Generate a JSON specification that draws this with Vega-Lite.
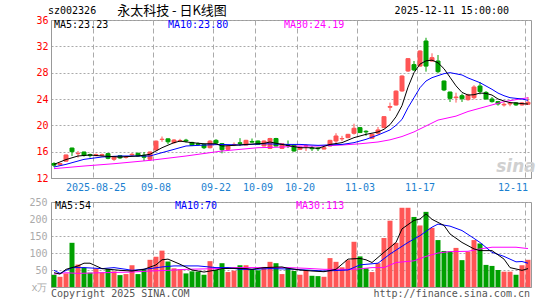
{
"$schema": "https://vega.github.io/schema/vega-lite/v6.json",
"autosize": {"type": "pad"},
"padding": {"left": 28, "top": 4, "right": 14, "bottom": 2},
"background": "white",
"bounds": "flush",
"spacing": 24,
"config": {
  "view": {"stroke": "#999999", "strokeWidth": 1},
  "axis": {"labelFont": "DejaVu Sans Mono", "labelFontSize": 10, "ticks": false, "domainColor": "#999999", "gridColor": "#aaaaaa", "title": null, "labelOverlap": false},
  "text": {"font": "DejaVu Sans Mono", "fontSize": 10}
},
"datasets": {
  "k": [
    {"d":"08-14","o":14.2,"h":14.4,"l":13.65,"c":13.95,"v":36},
    {"d":"08-15","o":14.0,"h":14.3,"l":13.9,"c":14.2,"v":30},
    {"d":"08-18","o":14.55,"h":15.55,"l":14.5,"c":15.5,"v":40},
    {"d":"08-19","o":16.55,"h":16.6,"l":15.35,"c":16.0,"v":130},
    {"d":"08-20","o":15.7,"h":16.1,"l":15.1,"c":15.75,"v":66},
    {"d":"08-21","o":15.95,"h":16.0,"l":15.25,"c":15.45,"v":57},
    {"d":"08-22","o":15.55,"h":15.7,"l":15.1,"c":15.4,"v":42},
    {"d":"08-25","o":15.4,"h":15.7,"l":15.3,"c":15.55,"v":54},
    {"d":"08-26","o":15.45,"h":15.7,"l":15.3,"c":15.55,"v":43},
    {"d":"08-27","o":15.7,"h":15.8,"l":14.85,"c":15.0,"v":53},
    {"d":"08-28","o":14.85,"h":15.35,"l":14.6,"c":15.25,"v":46},
    {"d":"08-29","o":15.4,"h":15.5,"l":14.9,"c":15.05,"v":35},
    {"d":"09-01","o":15.15,"h":15.35,"l":14.95,"c":15.2,"v":38},
    {"d":"09-02","o":15.5,"h":15.8,"l":15.35,"c":15.6,"v":64},
    {"d":"09-03","o":15.75,"h":15.85,"l":15.25,"c":15.35,"v":38},
    {"d":"09-04","o":15.45,"h":15.95,"l":14.6,"c":15.15,"v":52},
    {"d":"09-05","o":14.85,"h":16.0,"l":14.6,"c":15.95,"v":80},
    {"d":"09-08","o":16.25,"h":17.7,"l":16.2,"c":17.6,"v":89},
    {"d":"09-09","o":17.85,"h":18.3,"l":17.5,"c":17.9,"v":107},
    {"d":"09-10","o":17.95,"h":18.0,"l":17.15,"c":17.5,"v":75},
    {"d":"09-11","o":17.37,"h":17.9,"l":17.2,"c":17.77,"v":55},
    {"d":"09-12","o":17.62,"h":17.95,"l":17.45,"c":17.7,"v":52},
    {"d":"09-15","o":17.75,"h":17.95,"l":17.4,"c":17.62,"v":40},
    {"d":"09-16","o":17.4,"h":17.5,"l":16.85,"c":16.96,"v":46},
    {"d":"09-17","o":17.2,"h":17.4,"l":16.9,"c":17.1,"v":45},
    {"d":"09-18","o":17.1,"h":17.2,"l":16.4,"c":16.6,"v":36},
    {"d":"09-19","o":16.6,"h":17.75,"l":16.5,"c":17.6,"v":76},
    {"d":"09-22","o":17.72,"h":17.9,"l":17.2,"c":17.3,"v":50},
    {"d":"09-23","o":17.22,"h":17.3,"l":15.75,"c":16.3,"v":70},
    {"d":"09-24","o":16.35,"h":16.9,"l":16.25,"c":16.82,"v":44},
    {"d":"09-25","o":17.02,"h":17.4,"l":16.85,"c":17.1,"v":48},
    {"d":"09-26","o":17.35,"h":18.05,"l":16.85,"c":17.25,"v":64},
    {"d":"09-29","o":17.0,"h":17.8,"l":16.95,"c":17.72,"v":64},
    {"d":"09-30","o":17.55,"h":18.0,"l":17.35,"c":17.45,"v":53},
    {"d":"10-09","o":17.62,"h":17.7,"l":17.05,"c":17.1,"v":49},
    {"d":"10-10","o":16.86,"h":17.7,"l":16.8,"c":17.62,"v":59},
    {"d":"10-13","o":16.5,"h":18.1,"l":16.4,"c":18.0,"v":74},
    {"d":"10-14","o":18.0,"h":18.1,"l":16.8,"c":16.86,"v":70},
    {"d":"10-15","o":16.5,"h":17.25,"l":16.4,"c":17.2,"v":38},
    {"d":"10-16","o":17.05,"h":17.7,"l":16.55,"c":16.95,"v":55},
    {"d":"10-17","o":17.0,"h":17.1,"l":16.0,"c":16.1,"v":47},
    {"d":"10-20","o":16.36,"h":16.8,"l":16.3,"c":16.7,"v":36},
    {"d":"10-21","o":16.85,"h":17.12,"l":16.1,"c":16.9,"v":48},
    {"d":"10-22","o":16.55,"h":16.85,"l":16.1,"c":16.45,"v":33},
    {"d":"10-23","o":16.55,"h":16.7,"l":16.1,"c":16.45,"v":32},
    {"d":"10-24","o":16.4,"h":16.7,"l":16.35,"c":16.6,"v":30},
    {"d":"10-27","o":16.86,"h":17.8,"l":16.8,"c":17.72,"v":85},
    {"d":"10-28","o":17.62,"h":18.8,"l":17.2,"c":18.38,"v":74},
    {"d":"10-29","o":17.95,"h":18.4,"l":17.6,"c":18.0,"v":58},
    {"d":"10-30","o":18.13,"h":18.7,"l":18.05,"c":18.63,"v":79},
    {"d":"10-31","o":18.79,"h":20.25,"l":18.6,"c":19.55,"v":133},
    {"d":"11-03","o":19.65,"h":19.75,"l":18.85,"c":18.9,"v":90},
    {"d":"11-04","o":19.1,"h":19.25,"l":18.4,"c":19.0,"v":55},
    {"d":"11-05","o":18.03,"h":18.7,"l":17.95,"c":18.64,"v":44},
    {"d":"11-06","o":18.8,"h":19.75,"l":18.6,"c":19.3,"v":70},
    {"d":"11-07","o":19.65,"h":21.4,"l":19.6,"c":21.32,"v":144},
    {"d":"11-10","o":22.75,"h":23.45,"l":22.2,"c":22.85,"v":195},
    {"d":"11-11","o":23.09,"h":25.3,"l":23.0,"c":25.2,"v":130},
    {"d":"11-12","o":25.22,"h":27.6,"l":25.1,"c":27.49,"v":233},
    {"d":"11-13","o":28.25,"h":30.2,"l":28.1,"c":30.13,"v":233},
    {"d":"11-14","o":29.22,"h":29.77,"l":28.25,"c":28.41,"v":206},
    {"d":"11-17","o":29.0,"h":31.4,"l":28.9,"c":31.29,"v":181},
    {"d":"11-18","o":32.81,"h":33.3,"l":28.15,"c":29.0,"v":221},
    {"d":"11-19","o":29.77,"h":30.94,"l":29.67,"c":30.28,"v":174},
    {"d":"11-20","o":29.77,"h":30.68,"l":27.9,"c":28.15,"v":138},
    {"d":"11-21","o":26.73,"h":26.8,"l":25.2,"c":25.37,"v":106},
    {"d":"11-24","o":25.06,"h":25.1,"l":23.55,"c":24.1,"v":105},
    {"d":"11-25","o":24.2,"h":24.96,"l":23.45,"c":24.3,"v":115},
    {"d":"11-26","o":24.5,"h":24.8,"l":23.55,"c":24.05,"v":79},
    {"d":"11-27","o":23.9,"h":24.8,"l":23.75,"c":24.6,"v":104},
    {"d":"11-28","o":24.2,"h":26.1,"l":23.95,"c":25.82,"v":138},
    {"d":"12-01","o":25.97,"h":26.58,"l":24.71,"c":25.12,"v":128},
    {"d":"12-02","o":25.0,"h":25.2,"l":23.9,"c":24.0,"v":65},
    {"d":"12-03","o":24.0,"h":24.3,"l":23.45,"c":23.6,"v":62},
    {"d":"12-04","o":23.6,"h":23.7,"l":23.0,"c":23.25,"v":50},
    {"d":"12-05","o":23.1,"h":23.5,"l":22.85,"c":23.2,"v":45},
    {"d":"12-08","o":23.25,"h":23.6,"l":22.9,"c":23.35,"v":45},
    {"d":"12-09","o":23.4,"h":23.5,"l":22.95,"c":23.1,"v":36},
    {"d":"12-10","o":23.1,"h":23.55,"l":23.0,"c":23.4,"v":64},
    {"d":"12-11","o":23.2,"h":24.3,"l":23.1,"c":23.5,"v":80}
  ],
  "pm5": [
    {"d":"08-14","p":14.07},{"d":"08-18","p":14.8},{"d":"08-20","p":15.34},{"d":"08-22","p":15.5},{"d":"08-26","p":15.34},{"d":"08-29","p":15.19},{"d":"09-03","p":15.34},{"d":"09-05","p":15.6},{"d":"09-09","p":16.6},{"d":"09-11","p":17.37},{"d":"09-12","p":17.6},{"d":"09-16","p":17.37},{"d":"09-18","p":17.2},{"d":"09-22","p":17.2},{"d":"09-23","p":16.86},{"d":"09-25","p":16.96},{"d":"09-29","p":17.1},{"d":"10-10","p":17.26},{"d":"10-13","p":17.47},{"d":"10-15","p":17.1},{"d":"10-20","p":16.6},{"d":"10-22","p":16.6},{"d":"10-23","p":16.5},{"d":"10-27","p":17.1},{"d":"10-29","p":17.37},{"d":"10-31","p":18.13},{"d":"11-04","p":18.63},{"d":"11-06","p":18.99},{"d":"11-07","p":19.4},{"d":"11-10","p":20.1},{"d":"11-11","p":21.3},{"d":"11-12","p":23.0},{"d":"11-13","p":25.8},{"d":"11-14","p":28.0},{"d":"11-17","p":29.3},{"d":"11-18","p":29.8},{"d":"11-19","p":29.9},{"d":"11-20","p":29.5},{"d":"11-21","p":28.6},{"d":"11-24","p":27.3},{"d":"11-25","p":26.0},{"d":"11-26","p":25.0},{"d":"11-27","p":24.6},{"d":"11-28","p":24.65},{"d":"12-01","p":24.9},{"d":"12-02","p":24.85},{"d":"12-03","p":24.6},{"d":"12-04","p":24.0},{"d":"12-05","p":23.7},{"d":"12-08","p":23.45},{"d":"12-09","p":23.4},{"d":"12-10","p":23.3},{"d":"12-11","p":23.23}
  ],
  "pm10": [
    {"d":"08-14","p":13.67},{"d":"08-18","p":14.07},{"d":"08-21","p":14.83},{"d":"08-26","p":15.19},{"d":"08-29","p":15.34},{"d":"09-05","p":15.34},{"d":"09-09","p":15.85},{"d":"09-11","p":16.35},{"d":"09-15","p":16.86},{"d":"09-18","p":17.0},{"d":"09-23","p":17.1},{"d":"09-26","p":17.01},{"d":"10-10","p":17.2},{"d":"10-16","p":17.1},{"d":"10-20","p":17.1},{"d":"10-23","p":16.96},{"d":"10-29","p":17.1},{"d":"10-31","p":17.37},{"d":"11-04","p":17.87},{"d":"11-06","p":18.53},{"d":"11-10","p":19.3},{"d":"11-11","p":20.0},{"d":"11-12","p":20.9},{"d":"11-13","p":22.68},{"d":"11-14","p":24.2},{"d":"11-17","p":25.72},{"d":"11-18","p":26.73},{"d":"11-19","p":27.24},{"d":"11-21","p":27.85},{"d":"11-24","p":28.0},{"d":"11-26","p":27.65},{"d":"11-27","p":27.2},{"d":"12-01","p":26.48},{"d":"12-03","p":25.47},{"d":"12-04","p":24.9},{"d":"12-05","p":24.5},{"d":"12-08","p":24.2},{"d":"12-10","p":24.0},{"d":"12-11","p":23.8}
  ],
  "pm30": [
    {"d":"08-14","p":13.42},{"d":"08-21","p":13.82},{"d":"08-28","p":14.17},{"d":"09-05","p":14.68},{"d":"09-15","p":15.34},{"d":"09-18","p":15.72},{"d":"09-23","p":16.1},{"d":"09-26","p":16.35},{"d":"10-09","p":16.6},{"d":"10-15","p":16.7},{"d":"10-20","p":16.86},{"d":"10-23","p":16.86},{"d":"10-29","p":17.01},{"d":"11-03","p":17.2},{"d":"11-06","p":17.47},{"d":"11-10","p":17.8},{"d":"11-12","p":18.3},{"d":"11-14","p":19.0},{"d":"11-18","p":19.9},{"d":"11-20","p":20.8},{"d":"11-25","p":21.4},{"d":"11-27","p":22.1},{"d":"12-01","p":22.6},{"d":"12-03","p":23.1},{"d":"12-05","p":23.6},{"d":"12-09","p":23.9},{"d":"12-11","p":24.19}
  ],
  "vm5": [
    {"d":"08-14","v":42},{"d":"08-15","v":38},{"d":"08-18","v":52},{"d":"08-20","v":62},{"d":"08-21","v":70},{"d":"08-22","v":70},{"d":"08-26","v":54},{"d":"08-29","v":49},{"d":"09-02","v":47},{"d":"09-04","v":52},{"d":"09-08","v":65},{"d":"09-09","v":80},{"d":"09-10","v":82},{"d":"09-12","v":67},{"d":"09-16","v":50},{"d":"09-18","v":44},{"d":"09-22","v":50},{"d":"09-23","v":54},{"d":"09-25","v":55},{"d":"09-29","v":54},{"d":"09-30","v":52},{"d":"10-10","v":57},{"d":"10-15","v":59},{"d":"10-16","v":55},{"d":"10-20","v":50},{"d":"10-22","v":47},{"d":"10-24","v":45},{"d":"10-28","v":52},{"d":"10-30","v":82},{"d":"11-03","v":84},{"d":"11-04","v":80},{"d":"11-05","v":72},{"d":"11-07","v":102},{"d":"11-11","v":131},{"d":"11-12","v":171},{"d":"11-14","v":196},{"d":"11-17","v":200},{"d":"11-18","v":215},{"d":"11-19","v":199},{"d":"11-21","v":181},{"d":"11-24","v":156},{"d":"11-26","v":131},{"d":"11-28","v":112},{"d":"12-01","v":107},{"d":"12-03","v":107},{"d":"12-05","v":82},{"d":"12-08","v":57},{"d":"12-10","v":49},{"d":"12-11","v":54}
  ],
  "vm10": [
    {"d":"08-14","v":49},{"d":"08-15","v":40},{"d":"08-19","v":57},{"d":"08-21","v":57},{"d":"08-26","v":54},{"d":"08-28","v":57},{"d":"09-01","v":52},{"d":"09-02","v":49},{"d":"09-05","v":54},{"d":"09-09","v":59},{"d":"09-11","v":62},{"d":"09-15","v":62},{"d":"09-17","v":62},{"d":"09-22","v":57},{"d":"09-24","v":57},{"d":"09-26","v":52},{"d":"09-30","v":52},{"d":"10-13","v":54},{"d":"10-16","v":53},{"d":"10-21","v":50},{"d":"10-24","v":47},{"d":"10-30","v":50},{"d":"11-03","v":65},{"d":"11-06","v":70},{"d":"11-10","v":97},{"d":"11-13","v":131},{"d":"11-17","v":151},{"d":"11-19","v":176},{"d":"11-20","v":185},{"d":"11-24","v":179},{"d":"11-26","v":166},{"d":"11-28","v":143},{"d":"12-01","v":131},{"d":"12-03","v":102},{"d":"12-05","v":90},{"d":"12-09","v":74},{"d":"12-10","v":75},{"d":"12-11","v":70}
  ],
  "vm30": [
    {"d":"08-14","v":38},{"d":"08-18","v":42},{"d":"08-20","v":40},{"d":"08-26","v":42},{"d":"09-02","v":44},{"d":"09-05","v":47},{"d":"09-10","v":49},{"d":"09-15","v":52},{"d":"09-22","v":54},{"d":"09-25","v":57},{"d":"10-16","v":57},{"d":"10-21","v":55},{"d":"10-24","v":52},{"d":"10-31","v":52},{"d":"11-05","v":57},{"d":"11-07","v":57},{"d":"11-11","v":72},{"d":"11-14","v":77},{"d":"11-18","v":90},{"d":"11-20","v":100},{"d":"11-24","v":104},{"d":"11-27","v":105},{"d":"12-01","v":112},{"d":"12-03","v":117},{"d":"12-09","v":117},{"d":"12-11","v":113}
  ]
},
"vconcat": [
  {
    "width": 480,
    "height": 158,
    "encoding": {
      "x": {"field": "d", "type": "ordinal", "scale": {"paddingInner": 0, "paddingOuter": 0},
        "axis": {"values": ["08-25","09-08","09-22","10-09","10-20","11-03","11-17","12-11"], "bandPosition": 0,
          "labelExpr": "datum.value == '08-25' ? '2025-08-25' : datum.value", "labelAngle": 0,
          "labelAlign": {"condition": {"test": "datum.value == '12-11'", "value": "right"}, "value": "center"},
          "grid": true, "gridDash": [5, 3], "labelColor": "#1a7fd0", "labelPadding": 4, "labelFlush": false, "labelOverlap": false}}
    },
    "layer": [
      {
        "data": {"name": "k"},
        "mark": {"type": "rule", "strokeWidth": 1},
        "encoding": {
          "y": {"field": "l", "type": "quantitative", "scale": {"domain": [12, 36], "nice": false, "zero": false},
            "axis": {"values": [12, 16, 20, 24, 28, 32, 36], "tickCount": 20, "grid": true, "gridDash": [2, 2], "labelColor": "#ff0000", "labelPadding": 3, "labelOverlap": false}},
          "y2": {"field": "h"},
          "color": {"condition": {"test": "datum.c >= datum.o", "value": "#ff5555"}, "value": "#00a000"}
        }
      },
      {
        "data": {"name": "k"},
        "mark": {"type": "bar", "width": 4, "strokeWidth": 1},
        "encoding": {
          "y": {"field": "o", "type": "quantitative"},
          "y2": {"field": "c"},
          "color": {"condition": {"test": "datum.c >= datum.o", "value": "#ff5555"}, "value": "#00a000"},
          "stroke": {"condition": {"test": "datum.c >= datum.o", "value": "#ff5555"}, "value": "#00a000"}
        }
      },
      {
        "data": {"name": "pm30"},
        "mark": {"type": "line", "color": "#ff00ff", "strokeWidth": 1},
        "encoding": {"y": {"field": "p", "type": "quantitative"}}
      },
      {
        "data": {"name": "pm10"},
        "mark": {"type": "line", "color": "#0000ff", "strokeWidth": 1},
        "encoding": {"y": {"field": "p", "type": "quantitative"}}
      },
      {
        "data": {"name": "pm5"},
        "mark": {"type": "line", "color": "#000000", "strokeWidth": 1},
        "encoding": {"y": {"field": "p", "type": "quantitative"}}
      },
      {
        "data": {"values": [{}]},
        "mark": {"type": "text", "align": "left", "baseline": "middle", "color": "#000000", "text": "MA5:23.23", "dx": 0},
        "encoding": {"x": {"datum": "08-14"}, "y": {"datum": 35.3}}
      },
      {
        "data": {"values": [{}]},
        "mark": {"type": "text", "align": "left", "baseline": "middle", "color": "#0000ff", "text": "MA10:23.80", "dx": 0},
        "encoding": {"x": {"datum": "09-10"}, "y": {"datum": 35.3}}
      },
      {
        "data": {"values": [{}]},
        "mark": {"type": "text", "align": "left", "baseline": "middle", "color": "#ff00ff", "text": "MA30:24.19", "dx": 2},
        "encoding": {"x": {"datum": "10-15"}, "y": {"datum": 35.3}}
      },
      {
        "data": {"values": [{}]},
        "mark": {"type": "text", "align": "left", "baseline": "middle", "color": "#000000", "text": "sz002326", "dx": -6},
        "encoding": {"x": {"datum": "08-14"}, "y": {"datum": 37.3}}
      },
      {
        "data": {"values": [{}]},
        "mark": {"type": "text", "align": "center", "baseline": "middle", "color": "#000000", "text": "永太科技 - 日K线图", "font": "Noto Sans CJK SC", "fontSize": 13, "dx": -2},
        "encoding": {"x": {"datum": "09-11"}, "y": {"datum": 37.3}}
      },
      {
        "data": {"values": [{}]},
        "mark": {"type": "text", "align": "right", "baseline": "middle", "color": "#000000", "text": "2025-12-11 15:00:00", "dx": -1},
        "encoding": {"x": {"datum": "12-08"}, "y": {"datum": 37.3}}
      },
      {
        "data": {"values": [{}]},
        "mark": {"type": "text", "align": "center", "baseline": "middle", "color": "#d0d0d0", "text": "sina", "font": "DejaVu Sans", "fontSize": 17, "fontWeight": "bold", "fontStyle": "italic"},
        "encoding": {"x": {"datum": "12-09"}, "y": {"datum": 13.6}}
      }
    ]
  },
  {
    "width": 480,
    "height": 85,
    "encoding": {
      "x": {"field": "d", "type": "ordinal", "scale": {"paddingInner": 0, "paddingOuter": 0},
        "axis": {"values": ["08-25","09-08","09-22","10-09","10-20","11-03","11-17","12-11"], "bandPosition": 0,
          "labels": false, "grid": true, "gridDash": [5, 3]}}
    },
    "layer": [
      {
        "data": {"name": "k"},
        "mark": {"type": "bar", "width": 5},
        "encoding": {
          "y": {"field": "v", "type": "quantitative", "scale": {"domain": [0, 250], "nice": false},
            "axis": {"values": [0, 50, 100, 150, 200, 250], "tickCount": 20, "grid": true, "gridDash": [2, 2], "labelColor": "#aaaaaa", "labelPadding": 4, "labelOverlap": false,
              "labelExpr": "datum.value == 0 ? 'x万' : datum.label"}},
          "color": {"condition": {"test": "datum.c >= datum.o", "value": "#ff5555"}, "value": "#00a000"}
        }
      },
      {
        "data": {"name": "vm30"},
        "mark": {"type": "line", "color": "#ff00ff", "strokeWidth": 1},
        "encoding": {"y": {"field": "v", "type": "quantitative"}}
      },
      {
        "data": {"name": "vm10"},
        "mark": {"type": "line", "color": "#0000ff", "strokeWidth": 1},
        "encoding": {"y": {"field": "v", "type": "quantitative"}}
      },
      {
        "data": {"name": "vm5"},
        "mark": {"type": "line", "color": "#000000", "strokeWidth": 1},
        "encoding": {"y": {"field": "v", "type": "quantitative"}}
      },
      {
        "data": {"values": [{}]},
        "mark": {"type": "text", "align": "left", "baseline": "middle", "color": "#000000", "text": "MA5:54", "dx": 1},
        "encoding": {"x": {"datum": "08-14"}, "y": {"datum": 239}}
      },
      {
        "data": {"values": [{}]},
        "mark": {"type": "text", "align": "left", "baseline": "middle", "color": "#0000ff", "text": "MA10:70", "dx": 1},
        "encoding": {"x": {"datum": "09-11"}, "y": {"datum": 239}}
      },
      {
        "data": {"values": [{}]},
        "mark": {"type": "text", "align": "left", "baseline": "middle", "color": "#ff00ff", "text": "MA30:113", "dx": 2},
        "encoding": {"x": {"datum": "10-17"}, "y": {"datum": 239}}
      },
      {
        "data": {"values": [{}]},
        "mark": {"type": "text", "align": "left", "baseline": "middle", "color": "#555555", "text": "Copyright 2025 SINA.COM", "dx": -3},
        "encoding": {"x": {"datum": "08-14"}, "y": {"datum": -22}}
      },
      {
        "data": {"values": [{}]},
        "mark": {"type": "text", "align": "right", "baseline": "middle", "color": "#555555", "text": "http://finance.sina.com.cn", "dx": 2},
        "encoding": {"x": {"datum": "12-11"}, "y": {"datum": -22}}
      }
    ]
  }
]
}
